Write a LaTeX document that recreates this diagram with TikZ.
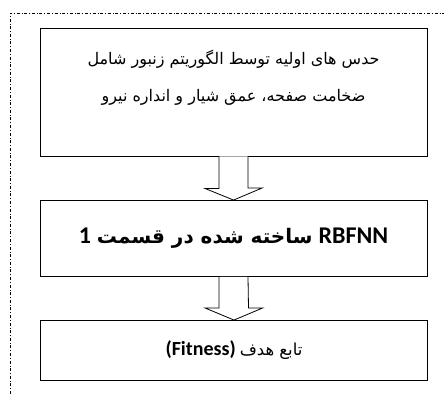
\documentclass[tikz,border=0pt]{standalone}
\usepackage{fontspec}
\setmainfont{Carlito}
\newfontfamily\arabicfont[Script=Arabic]{DejaVu Sans}
\TeXXeTstate=1
\usetikzlibrary{calc}
\tikzset{
  box/.style={draw=black, line width=0.9pt, rectangle, minimum width=387pt, inner sep=0pt},
  blockarrow/.style={draw=black, line width=0.8pt, fill=white, line join=miter},
  frame/.style={draw=black, line width=0.6pt, dash dot}
}
\begin{document}
\begin{tikzpicture}[x=1pt,y=-1pt]
\useasboundingbox (0,0) rectangle (444,394);
\coordinate (fb) at (10,394);
\coordinate (fc) at (10,13);
\coordinate (fr) at (444,13);
\draw[frame] (fb) -- (fc) -- (fr);
\node[box, minimum height=128pt] (b1) at (233.5,92) {};
\node[align=center, inner sep=0pt, font={\fontsize{16}{37}\arabicfont}] (t1) at (233.5,78) {%
  \beginR حدس های اولیه توسط الگوریتم زنبور شامل\endR\\
  \beginR ضخامت صفحه، عمق شیار و انداره نیرو\endR};
\node[box, minimum height=76pt, font={\fontsize{24}{28}\selectfont}] (b2) at (233.5,238.5) {%
  \textbf{1}\hspace{0.25em}{\fontsize{20}{24}\arabicfont\bfseries\beginR ساخته شده در قسمت\endR}\hspace{0.25em}\textbf{RBFNN}};
\node[box, minimum height=60pt, font={\fontsize{20}{24}\selectfont}] (b3) at (234,350.5) {%
  \textbf{(Fitness)}\hspace{0.2em}{\fontsize{16.5}{20}\arabicfont\beginR تابع هدف\endR}};
\draw[blockarrow] ($(b1.south)+(-14.5,0)$) -- ++(0,32) -- ++(-14,0) -- (b2.north)
  -- ++(28.5,-12) -- ++(-14,0) -- ($(b1.south)+(14.5,0)$);
\draw[blockarrow] ($(b2.south)+(-14.5,0)$) -- ++(0,31) -- ++(-14,0) -- (b3.north)
  -- ++(28.5,-12) -- ++(-14,0) -- ($(b2.south)+(14.5,0)$);
\end{tikzpicture}
\end{document}
